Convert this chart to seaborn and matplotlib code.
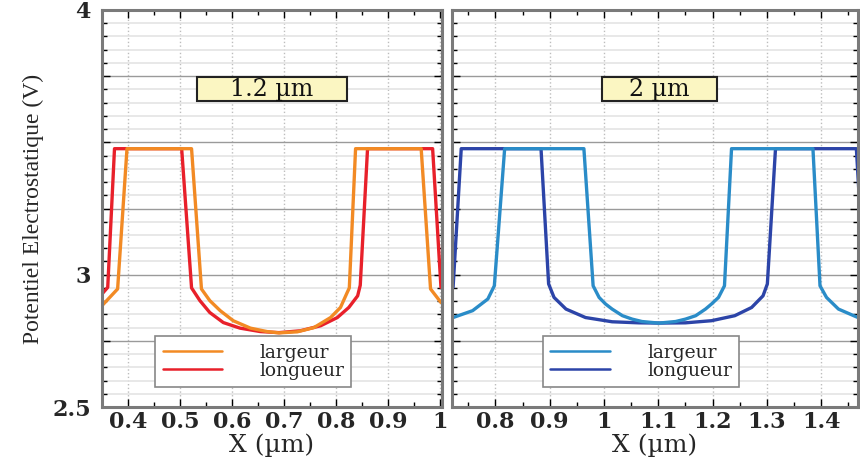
import matplotlib
matplotlib.use("Agg")
import matplotlib.pyplot as plt
from matplotlib.ticker import MultipleLocator, FuncFormatter
from matplotlib.patches import Rectangle
import seaborn as sns
import pandas as pd

# panneau gauche : 1.2 um
x_larg_12 = [0.350, 0.380, 0.398, 0.522, 0.541, 0.557, 0.577, 0.602, 0.635, 0.667, 0.690,
             0.725, 0.757, 0.789, 0.808, 0.821, 0.825, 0.837, 0.963, 0.981, 1.001]
v_larg_12 = [2.883, 2.946, 3.476, 3.476, 2.946, 2.902, 2.864, 2.826, 2.798, 2.785, 2.780,
             2.784, 2.800, 2.838, 2.876, 2.933, 2.950, 3.476, 3.476, 2.946, 2.895]
x_long_12 = [0.350, 0.361, 0.374, 0.503, 0.522, 0.538, 0.557, 0.583, 0.615, 0.654, 0.690,
             0.731, 0.770, 0.802, 0.824, 0.841, 0.846, 0.860, 0.985, 1.001]
v_long_12 = [2.927, 2.952, 3.476, 3.476, 2.950, 2.902, 2.857, 2.819, 2.798, 2.785, 2.781,
             2.788, 2.807, 2.838, 2.876, 2.920, 2.960, 3.476, 3.476, 2.952]

# panneau droit : 2 um
x_larg_2 = [0.722, 0.758, 0.786, 0.798, 0.817, 0.963, 0.980, 0.991, 1.003, 1.015, 1.034,
            1.052, 1.070, 1.101, 1.132, 1.150, 1.169, 1.187, 1.198, 1.211, 1.222, 1.235,
            1.385, 1.398, 1.410, 1.432, 1.468]
v_larg_2 = [2.838, 2.864, 2.908, 2.958, 3.476, 3.476, 2.958, 2.914, 2.889, 2.870, 2.845,
            2.832, 2.823, 2.817, 2.823, 2.832, 2.845, 2.870, 2.889, 2.914, 2.958, 3.476,
            3.476, 2.958, 2.914, 2.870, 2.838]
x_long_2 = [0.722, 0.737, 0.884, 0.898, 0.908, 0.930, 0.966, 1.015, 1.064, 1.101,
            1.150, 1.198, 1.241, 1.272, 1.293, 1.301, 1.316, 1.465, 1.470]
v_long_2 = [2.952, 3.476, 3.476, 2.965, 2.914, 2.870, 2.838, 2.822, 2.818, 2.817,
            2.818, 2.826, 2.845, 2.876, 2.920, 2.965, 3.476, 3.476, 3.30]

labels = ["largeur", "longueur"]
y_labels = [2.5, 3.0, 4.0]

sns.set_theme(style="white")
plt.rcParams["font.family"] = ["DejaVu Serif"]

fig = plt.figure(figsize=(8.6, 4.62), dpi=100)
ax1 = fig.add_axes([102 / 860, 55 / 462, 340 / 860, 397 / 462])
ax2 = fig.add_axes([452 / 860, 55 / 462, 406 / 860, 397 / 462])


def draw_panel(ax, xl, vl, xg, vg, colors, xlim, titre, box, leg_x):
    df_g = pd.DataFrame({"x": xg, "v": vg})
    df_l = pd.DataFrame({"x": xl, "v": vl})
    sns.lineplot(data=df_g, x="x", y="v", color=colors[1], lw=2.4, sort=False,
                 estimator=None, label=labels[1], ax=ax)
    sns.lineplot(data=df_l, x="x", y="v", color=colors[0], lw=2.4, sort=False,
                 estimator=None, label=labels[0], ax=ax)
    ax.set_xlim(*xlim)
    ax.set_ylim(2.5, 4)

    ax.xaxis.set_major_locator(MultipleLocator(0.1))
    ax.xaxis.set_minor_locator(MultipleLocator(0.05))
    ax.yaxis.set_major_locator(MultipleLocator(0.25))
    ax.yaxis.set_minor_locator(MultipleLocator(0.05))
    ax.xaxis.set_major_formatter(FuncFormatter(lambda v, p: f"{round(v, 2):g}"))
    ax.yaxis.set_major_formatter(FuncFormatter(
        lambda v, p: f"{round(v, 2):g}" if round(v, 2) in y_labels else ""))

    ax.grid(which="major", axis="x", color="#bdbdbd", ls=":", lw=1)
    ax.grid(which="major", axis="y", color="#9a9a9a", lw=1)
    ax.grid(which="minor", axis="y", color="#e4e4e4", lw=1.2)
    ax.set_axisbelow(True)

    ax.tick_params(which="both", direction="in", top=True, right=True,
                   bottom=True, left=True, color="black", width=1)
    ax.tick_params(which="major", length=6)
    ax.tick_params(which="minor", length=3.5)
    ax.tick_params(axis="x", pad=3, labelsize=16)
    ax.tick_params(axis="y", pad=8, labelsize=16)
    for t in ax.get_xticklabels() + ax.get_yticklabels():
        t.set_fontweight("bold")
    for s in ax.spines.values():
        s.set_color("#7a7a7a")
        s.set_linewidth(2.2)

    ax.set_xlabel("X (µm)", fontsize=18, labelpad=0)
    ax.set_ylabel("")

    ax.add_patch(Rectangle((box[0], 0.771), box[1], 0.060, transform=ax.transAxes,
                           facecolor="#fbf6c2", edgecolor="#222222", lw=1.5, zorder=5))
    ax.text(box[0] + box[1] / 2, 0.801, titre, transform=ax.transAxes, ha="center",
            va="center", fontsize=17, color="#111111", zorder=6)

    h, l = ax.get_legend_handles_labels()
    order = [l.index(labels[0]), l.index(labels[1])]
    leg = ax.legend([h[i] for i in order], [l[i] for i in order], loc="lower left",
                    bbox_to_anchor=(leg_x, 0.05), borderaxespad=0, frameon=True,
                    fancybox=False, edgecolor="#888888", framealpha=1,
                    prop={"family": "DejaVu Serif", "size": 13.5},
                    handlelength=3.15, handletextpad=2.0, labelspacing=0.0,
                    borderpad=0.4)
    leg.get_frame().set_linewidth(1.2)
    for line in leg.get_lines():
        line.set_linewidth(1.8)


draw_panel(ax1, x_larg_12, v_larg_12, x_long_12, v_long_12, ["#f28a24", "#e8202a"],
           (0.35, 1.003), "1.2 µm", (0.279, 0.442), 0.156)
draw_panel(ax2, x_larg_2, v_larg_2, x_long_2, v_long_2, ["#2a8cc8", "#2c44a8"],
           (0.72, 1.468), "2 µm", (0.369, 0.284), 0.224)
ax2.tick_params(labelleft=False)

fig.text(33 / 860, 1 - 208.5 / 462, "Potentiel Electrostatique (V)", rotation=90,
         ha="center", va="center", fontsize=17, family="Liberation Serif")

fig.savefig("out.png", dpi=100)
